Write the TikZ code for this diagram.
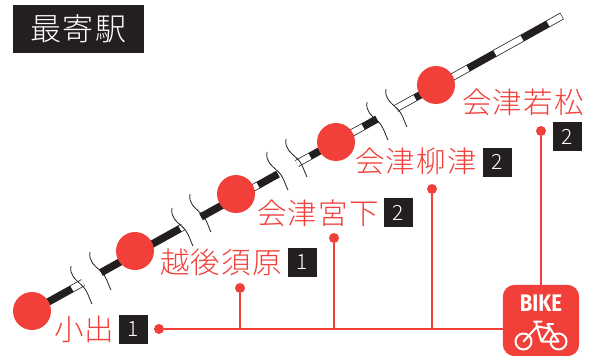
\documentclass[tikz,border=0pt]{standalone}
\usepackage{fontspec}
\usepackage{graphicx}
\setmainfont{Noto Sans CJK JP Light}[LetterSpace=4]
\newfontfamily\bikefont{Fira Sans}
\definecolor{stationred}{HTML}{F1403A}
\definecolor{boxblack}{HTML}{231F20}
\usetikzlibrary{positioning}
\tikzset{
    station/.style={circle, fill=stationred, minimum size=38pt, inner sep=0pt},
    stationname/.style={anchor=west, inner sep=0pt, text=stationred, font=\fontsize{29.5}{29.5}\selectfont},
    zone/.style={fill=boxblack, text=white, minimum size=29pt, inner sep=0pt, font=\fontsize{21}{21}\selectfont},
    dot/.style={circle, fill=stationred, minimum size=10pt, inner sep=0pt},
    link/.style={draw=stationred, line width=1.5pt},
    rail/.style={draw=boxblack, line width=7.5pt},
    railgap/.style={draw=white, line width=6pt},
    bikeline/.style={draw=white, line width=2pt, line cap=round, line join=round},
    pics/wave/.style={code={
        \draw[boxblack, line width=0.8pt] (0,0) .. controls (-1.5,9) and (4,13) .. (10.5,19) .. controls (17,25) and (17,30) .. (21,38);
    }}
}
\begin{document}
\begin{tikzpicture}[x=1pt, y=-1pt]
    \useasboundingbox (0,0) rectangle (600,356);
    \node[fill=boxblack, text=white, minimum width=131pt, minimum height=48pt, inner sep=0pt, font=\fontsize{31}{31}\selectfont] (title) at (78.5,29) {最寄駅};
    \foreach \a/\b in {48/83, 101/183, 201/278, 297/377, 396/562}
        \draw[rail] ({\a},{311-0.5566*(\a-32)}) -- ({\b},{311-0.5566*(\b-32)});
    \foreach \a/\b in {72/83, 180/183, 253/258, 297/310, 350/363, 396/415, 452/468, 495/522, 548/561.5}
        \draw[railgap] ({\a},{311-0.5566*(\a-32)}) -- ({\b},{311-0.5566*(\b-32)});
    \foreach \x/\y in {71/266, 90/252, 172/208, 190/194, 267/152, 286/139, 367/102, 386/89}
        \pic at (\x,\y) {wave};
    \node[station] (S1) at (32,311) {};
    \node[station] (S2) at (135,251) {};
    \node[station] (S3) at (236,194) {};
    \node[station] (S4) at (336,142) {};
    \node[station] (S5) at (436,85) {};
    \node[stationname] (N1) at (54,329) {小出};
    \node[stationname] (N2) at (160,262) {越後須原};
    \node[stationname] (N3) at (257,213) {会津宮下};
    \node[stationname] (N4) at (355,161) {会津柳津};
    \node[stationname] (N5) at (462,102) {会津若松};
    \node[zone] (Z1) at (133,329) {1};
    \node[zone] (Z2) at (302,262.5) {1};
    \node[zone] (Z3) at (398.5,212.5) {2};
    \node[zone] (Z4) at (497.5,162) {2};
    \node[zone] (Z5) at (567.5,136.5) {2};
    \node[minimum width=76pt, minimum height=71pt, inner sep=0pt] (bike) at (541,320.5) {};
    \fill[stationred, rounded corners=12pt] (bike.south west) -- (bike.north west) -- (bike.north east) -- (bike.south east) -- cycle;
    \node[text=white, inner sep=0pt, font=\bikefont\bfseries\fontsize{24}{24}\selectfont] (biketext) at (541,303) {\scalebox{.85}[1]{BIKE}};
    \draw[bikeline] (523.5,341.5) circle (8);
    \draw[bikeline] (558.5,341.5) circle (8);
    \draw[bikeline] (523.5,341.5) -- (537,326.5) -- (541.5,341.5) -- (550,328.5) -- (558.5,341.5) -- (541.5,341.5);
    \draw[bikeline] (537,326.5) -- (550,328.5) -- (547.5,324) -- (553,324);
    \draw[bikeline] (534,321.5) -- (541.5,321.5) (536,321.5) -- (537,326.5);
    \node[dot] (D1) at (159,329) {};
    \node[dot] (D2) at (240,288) {};
    \node[dot] (D3) at (334,238) {};
    \node[dot] (D4) at (432,189) {};
    \node[dot] (D5) at (541,131) {};
    \draw[link] (D1) -- (D1 -| bike.west);
    \draw[link] (D2) -- (D2 |- D1);
    \draw[link] (D3) -- (D3 |- D1);
    \draw[link] (D4) -- (D4 |- D1);
    \draw[link] (D5) -- (bike.north);
\end{tikzpicture}
\end{document}
